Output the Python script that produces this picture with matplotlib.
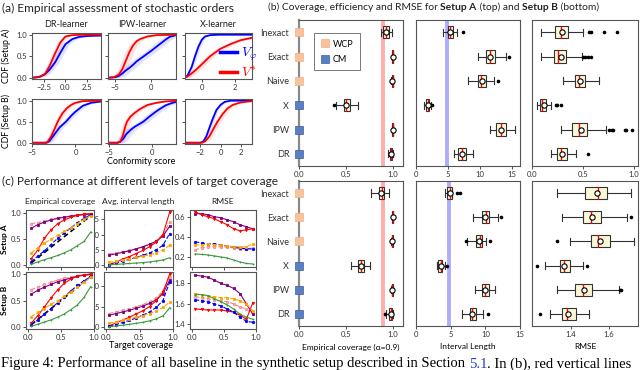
import numpy as np
import matplotlib.pyplot as plt
from matplotlib.lines import Line2D

plt.rcParams['font.family'] = ['Lato', 'DejaVu Sans']
plt.rcParams['mathtext.fontset'] = 'cm'
plt.rcParams['axes.edgecolor'] = '#555555'
plt.rcParams['axes.linewidth'] = 0.8
plt.rcParams['xtick.color'] = '#333333'
plt.rcParams['ytick.color'] = '#333333'

W, H = 640, 370

# ---------------- (a) empirical CDFs of the conformity scores ----------------
# setup A
drA_red_x = [-3.9, -3.2, -2.4, -1.84, -1.2, -0.6, 0.0, 0.8, 2.0, 4.1]
drA_red_y = [0.0, 0.01, 0.08, 0.28, 0.57, 0.82, 0.96, 0.99, 1.0, 1.0]
drA_blue_x = [-3.9, -3.0, -2.4, -1.8, -1.2, -0.6, 0.0, 0.8, 1.6, 2.5, 4.1]
drA_blue_y = [0.0, 0.02, 0.08, 0.2, 0.36, 0.58, 0.78, 0.9, 0.95, 0.97, 0.98]
ipwA_red_x = [-6.0, -5.2, -4.5, -4.0, -3.5, -3.0, -2.5, -2.0, -1.5, -0.5, 0.8, 3.5]
ipwA_red_y = [0.0, 0.01, 0.07, 0.2, 0.4, 0.6, 0.75, 0.85, 0.9, 0.96, 0.99, 1.0]
ipwA_blue_x = [-6.0, -5.0, -4.5, -4.0, -3.5, -3.0, -2.5, -2.0, -1.0, 0.0, 1.0, 2.0, 2.6, 3.5]
ipwA_blue_y = [0.0, 0.01, 0.04, 0.1, 0.17, 0.23, 0.3, 0.38, 0.5, 0.62, 0.75, 0.88, 0.95, 0.99]
xA_blue_x = [-1.0, -0.85, -0.6, -0.4, -0.2, 0.0, 0.2, 0.5, 1.0, 3.0]
xA_blue_y = [0.0, 0.05, 0.25, 0.5, 0.72, 0.88, 0.96, 0.99, 1.0, 1.0]
xA_red_x = [-1.0, -0.85, -0.6, -0.3, 0.0, 0.5, 1.1, 1.7, 2.3, 3.0]
xA_red_y = [0.0, 0.03, 0.1, 0.2, 0.31, 0.5, 0.67, 0.78, 0.87, 0.93]
# setup B
drB_red_x = [-5.0, -3.5, -3.2, -2.8, -2.4, -2.0, -1.5, -1.0, -0.5, 0.0, 0.85, 2.9]
drB_red_y = [0.0, 0.0, 0.02, 0.15, 0.33, 0.52, 0.7, 0.82, 0.9, 0.95, 0.99, 1.0]
drB_blue_x = [-5.0, -3.3, -3.0, -2.6, -2.2, -1.8, -1.1, -0.5, 0.0, 0.85, 1.8, 2.9]
drB_blue_y = [0.0, 0.0, 0.04, 0.15, 0.26, 0.37, 0.5, 0.64, 0.74, 0.88, 0.95, 0.98]
ipwB_red_x = [-5.1, -4.0, -3.7, -3.4, -3.1, -2.9, -2.5, -2.0, -1.4, -0.5, 0.55, 1.5, 2.8]
ipwB_red_y = [0.0, 0.0, 0.02, 0.15, 0.38, 0.5, 0.62, 0.71, 0.8, 0.9, 0.95, 0.98, 1.0]
ipwB_blue_x = [-5.1, -4.0, -3.7, -3.3, -3.0, -2.5, -2.0, -1.5, -1.0, -0.3, 0.4, 0.9, 1.6, 2.4, 2.8]
ipwB_blue_y = [0.0, 0.0, 0.02, 0.1, 0.2, 0.3, 0.38, 0.44, 0.5, 0.62, 0.73, 0.8, 0.89, 0.95, 0.97]
xB_blue_x = [-3.5, -2.0, -1.7, -1.4, -1.1, -0.8, -0.4, 0.0, 0.4, 1.0, 3.1]
xB_blue_y = [0.0, 0.0, 0.03, 0.15, 0.35, 0.55, 0.78, 0.9, 0.97, 1.0, 1.0]
xB_red_x = [-3.5, -1.8, -1.5, -1.1, -0.7, -0.3, 0.2, 0.7, 1.2, 2.0, 3.1]
xB_red_y = [0.0, 0.0, 0.04, 0.15, 0.33, 0.5, 0.68, 0.82, 0.9, 0.96, 0.99]
# horizontal spread of the shaded bands (red, blue)
band_A = [(0.35, 0.45), (0.6, 0.8), (0.25, 0.12)]
band_B = [(0.35, 0.4), (0.4, 0.6), (0.3, 0.2)]
xlims_A = [(-3.9, 4.1), (-6.0, 3.5), (-1.0, 3.0)]
xlims_B = [(-5.0, 2.9), (-5.1, 2.8), (-3.5, 3.1)]
xticks_A = [[-2.5, 0, 2.5], [-5, 0], [0, 2]]
xticks_B = [[-5, 0], [-5, 0], [-2, 0, 2]]
learners = ['DR-learner', 'IPW-learner', 'X-learner']

# ---------------- (b) box plot summaries: lo, q1, med, q3, hi, mean ----------------
methods = ['Inexact', 'Exact', 'Naive', 'X', 'IPW', 'DR']
families = ['WCP', 'WCP', 'WCP', 'CM', 'CM', 'CM']
cov_A = [[0.875, 0.90, 0.929, 0.957, 0.989, 0.929],
         [0.99, 0.995, 1.0, 1.0, 1.0, 0.998],
         [0.985, 0.993, 0.998, 1.0, 1.0, 0.997],
         [0.393, 0.475, 0.50, 0.543, 0.625, 0.50],
         [0.99, 0.995, 1.0, 1.0, 1.0, 0.999],
         [0.95, 0.97, 0.98, 0.99, 1.0, 0.98]]
cov_A_fl = [[], [], [], [0.375], [], []]
len_A = [[4.26, 5.0, 5.37, 5.79, 6.47, 5.4],
         [9.74, 10.95, 11.58, 12.42, 14.05, 11.6],
         [8.16, 9.74, 10.26, 10.95, 12.26, 10.3],
         [1.3, 1.6, 1.9, 2.1, 2.4, 1.85],
         [11.58, 12.6, 13.4, 14.05, 15.5, 13.4],
         [5.9, 6.63, 7.2, 7.9, 8.95, 7.2]]
len_A_fl = [[7.37], [14.6], [12.9], [2.5], [], []]
rmse_A = [[0.093, 0.225, 0.285, 0.358, 0.497, 0.298],
          [0.093, 0.215, 0.258, 0.33, 0.49, 0.28],
          [0.305, 0.424, 0.464, 0.52, 0.662, 0.47],
          [0.046, 0.076, 0.10, 0.139, 0.19, 0.113],
          [0.28, 0.39, 0.457, 0.536, 0.73, 0.48],
          [0.182, 0.248, 0.288, 0.348, 0.43, 0.298]]
rmse_A_fl = [[0.556, 0.58, 0.71, 0.83], [0.503, 0.523, 0.55, 0.58], [],
             [0.232, 0.25, 0.288], [0.76, 0.78, 0.795, 0.91, 0.927, 0.977], [0.55]]
cov_B = [[0.766, 0.851, 0.887, 0.911, 0.965, 0.88],
         [0.99, 0.995, 1.0, 1.0, 1.0, 0.998],
         [0.98, 0.99, 0.997, 1.0, 1.0, 0.996],
         [0.557, 0.635, 0.667, 0.699, 0.759, 0.667],
         [0.986, 0.992, 0.997, 1.0, 1.0, 0.996],
         [0.93, 0.957, 0.982, 0.995, 1.0, 0.978]]
cov_B_fl = [[], [], [], [], [], [0.915]]
len_B = [[4.2, 4.54, 4.87, 5.16, 5.26, 4.87],
         [8.22, 9.5, 10.03, 10.6, 11.8, 10.0],
         [7.36, 8.7, 9.17, 9.56, 10.13, 9.1],
         [2.96, 3.2, 3.54, 3.82, 4.2, 3.54],
         [8.46, 9.5, 9.99, 10.5, 11.37, 9.95],
         [6.69, 7.74, 8.12, 8.7, 9.65, 8.12]]
len_B_fl = [[5.92, 6.3], [12.28], [7.26, 10.7], [4.5], [], [10.32]]
rmse_B = [[1.332, 1.477, 1.542, 1.589, 1.712, 1.539],
          [1.358, 1.463, 1.507, 1.56, 1.691, 1.51],
          [1.396, 1.507, 1.544, 1.603, 1.73, 1.553],
          [1.267, 1.344, 1.367, 1.398, 1.463, 1.368],
          [1.328, 1.425, 1.463, 1.512, 1.653, 1.47],
          [1.291, 1.358, 1.384, 1.428, 1.498, 1.388]]
rmse_B_fl = [[], [1.712], [1.328], [1.228, 1.484], [1.656, 1.66], [1.242]]
target_alpha = 0.9
ref_len_A, ref_len_B = 4.85, 4.8

# ---------------- (c) metrics vs target coverage ----------------
target = [0.05, 0.15, 0.25, 0.35, 0.45, 0.55, 0.65, 0.75, 0.85, 0.95]
ecA_pink = [0.80, 0.82, 0.85, 0.88, 0.91, 0.93, 0.95, 0.97, 0.98, 0.99]
ecA_purple = [0.71, 0.78, 0.83, 0.87, 0.90, 0.92, 0.94, 0.96, 0.97, 0.98]
ecA_red = [0.13, 0.30, 0.52, 0.68, 0.80, 0.87, 0.92, 0.96, 0.98, 0.99]
ecA_blue = [0.07, 0.18, 0.28, 0.40, 0.52, 0.62, 0.72, 0.82, 0.90, 0.97]
ecA_orange = [0.24, 0.34, 0.43, 0.50, 0.58, 0.65, 0.72, 0.80, 0.88, 0.95]
ecA_green = [0.02, 0.07, 0.11, 0.15, 0.19, 0.24, 0.30, 0.38, 0.46, 0.64]
ecB_pink = [0.70, 0.75, 0.80, 0.84, 0.88, 0.91, 0.94, 0.96, 0.98, 1.0]
ecB_purple = [0.62, 0.69, 0.75, 0.80, 0.85, 0.88, 0.92, 0.95, 0.97, 0.98]
ecB_red = [0.08, 0.22, 0.38, 0.55, 0.70, 0.82, 0.90, 0.95, 0.98, 0.99]
ecB_blue = [0.05, 0.14, 0.25, 0.35, 0.46, 0.57, 0.68, 0.78, 0.87, 0.94]
ecB_orange = [0.20, 0.28, 0.35, 0.43, 0.50, 0.58, 0.66, 0.75, 0.84, 0.93]
ecB_green = [0.02, 0.06, 0.10, 0.14, 0.19, 0.25, 0.33, 0.42, 0.56, 0.76]
ilA_red = [0.2, 1.0, 2.0, 2.8, 3.8, 4.8, 6.0, 7.5, 10.0, 17.3]
ilA_pink = [3.6, 4.0, 4.4, 4.9, 5.4, 6.0, 6.8, 8.0, 10.0, 14.0]
ilA_purple = [3.3, 3.7, 4.2, 4.7, 5.3, 6.0, 6.8, 7.8, 9.5, 12.7]
ilA_blue = [0.2, 0.7, 1.3, 1.9, 2.5, 3.2, 4.0, 5.0, 6.5, 10.3]
ilA_orange = [0.9, 1.3, 1.7, 2.1, 2.5, 2.9, 3.4, 4.0, 5.0, 6.5]
ilA_green = [0.1, 0.25, 0.4, 0.55, 0.7, 0.85, 1.05, 1.35, 1.7, 2.4]
ilB_red = [0.3, 1.0, 1.7, 2.4, 3.2, 4.0, 5.0, 6.5, 8.5, 13.0]
ilB_pink = [3.3, 3.7, 4.1, 4.5, 5.0, 5.5, 6.2, 7.2, 8.8, 12.2]
ilB_purple = [2.9, 3.3, 3.7, 4.1, 4.6, 5.1, 5.8, 6.7, 8.2, 11.5]
ilB_blue = [0.2, 0.6, 1.1, 1.6, 2.2, 2.9, 3.7, 4.8, 6.5, 11.0]
ilB_orange = [0.9, 1.3, 1.6, 2.0, 2.4, 2.8, 3.3, 4.0, 4.8, 6.1]
ilB_green = [0.1, 0.25, 0.45, 0.65, 0.9, 1.15, 1.5, 2.0, 2.7, 4.7]
rmA_purple = [0.63, 0.63, 0.62, 0.60, 0.59, 0.57, 0.55, 0.52, 0.50, 0.48]
rmA_red = [0.65, 0.62, 0.60, 0.58, 0.55, 0.52, 0.48, 0.46, 0.47, 0.48]
rmA_blue = [0.35, 0.34, 0.33, 0.33, 0.32, 0.31, 0.30, 0.29, 0.28, 0.28]
rmA_orange = [0.32, 0.32, 0.33, 0.32, 0.32, 0.31, 0.30, 0.30, 0.30, 0.33]
rmA_pink = [0.27, 0.29, 0.30, 0.30, 0.30, 0.30, 0.29, 0.28, 0.28, 0.29]
rmA_green = [0.23, 0.225, 0.22, 0.21, 0.20, 0.19, 0.17, 0.15, 0.135, 0.13]
rmB_purple = [1.88, 1.87, 1.86, 1.83, 1.80, 1.78, 1.75, 1.70, 1.60, 1.50]
rmB_orange = [1.70, 1.69, 1.68, 1.67, 1.66, 1.66, 1.65, 1.63, 1.60, 1.53]
rmB_green = [1.69, 1.69, 1.68, 1.65, 1.62, 1.59, 1.55, 1.50, 1.47, 1.45]
rmB_pink = [1.67, 1.66, 1.65, 1.64, 1.63, 1.62, 1.60, 1.57, 1.55, 1.50]
rmB_blue = [1.64, 1.63, 1.62, 1.60, 1.58, 1.55, 1.52, 1.47, 1.43, 1.42]
rmB_red = [1.55, 1.545, 1.54, 1.54, 1.54, 1.53, 1.52, 1.49, 1.45, 1.61]

# colours / line styles of the (c) series
sty = {
    'red': dict(color='red', ls='-', marker='v'),
    'pink': dict(color='#f08a8a', ls='--', marker='o', mfc='#f7b5b5'),
    'purple': dict(color='#800080', ls='-', marker='s'),
    'orange': dict(color='#ffa500', ls='--', marker='s'),
    'blue': dict(color='blue', ls='--', marker='o'),
    'green': dict(color='#3a9a3a', ls='-', marker='+'),
}
WCP_C, CM_C = '#f9c29c', '#5a7ec2'


def px_axes(l, t, r, b, **kw):
    return fig.add_axes([l / W, 1 - b / H, (r - l) / W, (b - t) / H], **kw)


def seq_text(x, y, parts, **kw):
    # write text pieces one after another on a line (pixel coordinates)
    r = fig.canvas.get_renderer()
    for s, extra in parts:
        props = dict(kw)
        props.update(extra)
        t = fig.text(x / W, 1 - y / H, s, **props)
        bb = t.get_window_extent(r)
        x = bb.x1


def neg(v):
    return ('\u2212%g' % -v) if v < 0 else '%g' % v


def small_ticks(ax):
    ax.tick_params(labelsize=5.5, length=2, width=0.6, pad=1.5)


fig = plt.figure(figsize=(6.4, 3.7), dpi=100)

# ---------------- panel (a) ----------------
fig.text(2 / W, 1 - 8 / H, '(a) Empirical assessment of stochastic orders',
         fontsize=8.6, va='center', color='#222222')
a_cols = [(32, 100.7), (108, 176), (185, 252)]
curves_A = [(drA_red_x, drA_red_y, drA_blue_x, drA_blue_y),
            (ipwA_red_x, ipwA_red_y, ipwA_blue_x, ipwA_blue_y),
            (xA_red_x, xA_red_y, xA_blue_x, xA_blue_y)]
curves_B = [(drB_red_x, drB_red_y, drB_blue_x, drB_blue_y),
            (ipwB_red_x, ipwB_red_y, ipwB_blue_x, ipwB_blue_y),
            (xB_red_x, xB_red_y, xB_blue_x, xB_blue_y)]
for row, (top, bot, curves, bands, xl, xt) in enumerate(
        [(33, 79, curves_A, band_A, xlims_A, xticks_A),
         (99, 144, curves_B, band_B, xlims_B, xticks_B)]):
    for j, (l, r) in enumerate(a_cols):
        ax = px_axes(l, top, r, bot)
        rx, ry, bx, by = curves[j]
        wr, wb = bands[j]
        ax.fill_betweenx(ry, np.array(rx) - wr, np.array(rx) + wr, color='red', alpha=0.12, lw=0)
        ax.fill_betweenx(by, np.array(bx) - wb, np.array(bx) + wb, color='blue', alpha=0.12, lw=0)
        lb, = ax.plot(bx, by, color='blue', lw=1.3, label=r'$V_\varphi$')
        lr, = ax.plot(rx, ry, color='red', lw=1.3, label=r'$V^{*}$')
        ax.set_xlim(xl[j])
        ax.set_ylim(-0.03, 1.04)
        ax.set_xticks(xt[j])
        if j == 0 and row == 0:
            ax.set_xticklabels(['\u22122.5', '0.0', '2.5'])
        else:
            ax.set_xticklabels([neg(v) for v in xt[j]])
        ax.set_yticks([0, 0.5, 1.0])
        if j == 0:
            ax.set_yticklabels(['0.0', '0.5', '1.0'])
        else:
            ax.set_yticklabels([])
        small_ticks(ax)
        if row == 0:
            ax.set_title(learners[j], fontsize=6.5, pad=4, color='#222222')
        if row == 0 and j == 2:
            ax.legend(handles=[lb, lr], loc='center left', bbox_to_anchor=(0.42, 0.36),
                      frameon=False, fontsize=10, handlelength=1.2, handletextpad=0.3,
                      labelspacing=0.1, labelcolor='linecolor', borderpad=0)
            for line in ax.get_legend().get_lines():
                line.set_linewidth(2.5)
fig.text(6 / W, 1 - 56 / H, 'CDF (Setup A)', rotation=90, fontsize=6.3, va='center', ha='center')
fig.text(6 / W, 1 - 121 / H, 'CDF (Setup B)', rotation=90, fontsize=6.3, va='center', ha='center')
fig.text(141 / W, 1 - 161 / H, 'Conformity score', fontsize=6.5, va='center', ha='center')

# ---------------- panel (c) ----------------
fig.text(2 / W, 1 - 181 / H, '(c) Performance at different levels of target coverage',
         fontsize=8.6, va='center', color='#222222')
c_cols = [(26, 94), (104, 173), (190, 256)]
c_titles = ['Empirical coverage', 'Avg. interval length', 'RMSE']
c_data = {
    (0, 0): [ecA_pink, ecA_purple, ecA_red, ecA_blue, ecA_orange, ecA_green],
    (1, 0): [ecB_pink, ecB_purple, ecB_red, ecB_blue, ecB_orange, ecB_green],
    (0, 1): [ilA_pink, ilA_purple, ilA_red, ilA_blue, ilA_orange, ilA_green],
    (1, 1): [ilB_pink, ilB_purple, ilB_red, ilB_blue, ilB_orange, ilB_green],
    (0, 2): [rmA_pink, rmA_purple, rmA_red, rmA_blue, rmA_orange, rmA_green],
    (1, 2): [rmB_pink, rmB_purple, rmB_red, rmB_blue, rmB_orange, rmB_green],
}
c_order = ['pink', 'purple', 'red', 'blue', 'orange', 'green']
c_ylim = {(0, 0): (-0.03, 1.06), (1, 0): (-0.03, 1.03), (0, 1): (-0.6, 18), (1, 1): (-0.5, 13.5),
          (0, 2): (0.1, 0.667), (1, 2): (1.355, 1.91)}
c_yticks = {(0, 0): [0, 0.5, 1.0], (1, 0): [0, 0.5, 1.0], (0, 1): [0, 5, 10, 15], (1, 1): [0, 5, 10],
            (0, 2): [0.2, 0.4, 0.6], (1, 2): [1.4, 1.6, 1.8]}
c_rows = [(210, 267), (272, 329)]
for j in [1, 2, 0]:
    l, r = c_cols[j]
    for row, (top, bot) in enumerate(c_rows):
        ax = px_axes(l, top, r, bot)
        if j == 0:
            ax.set_zorder(3)
            ax.plot(target, target, color='black', ls='--', lw=1.2, dashes=(3, 2))
        for name, vals in zip(c_order, c_data[(row, j)]):
            ax.plot(target, vals, lw=0.8, ms=1.7, mew=0.6, **sty[name])
        ax.set_xlim(-0.03, 1.0)
        ax.set_ylim(c_ylim[(row, j)])
        yt = c_yticks[(row, j)]
        ax.set_yticks(yt)
        ax.set_yticklabels(['%.1f' % v if j != 1 else '%g' % v for v in yt])
        ax.set_xticks([0, 0.5, 1.0])
        if row == 1:
            ax.set_xticklabels(['0.0', '0.5', '1.0'])
        else:
            ax.set_xticklabels([])
        small_ticks(ax)
        if row == 0:
            ax.set_title(c_titles[j], fontsize=6.1, pad=4, color='#222222')
fig.text(5 / W, 1 - 239 / H, 'Setup A', rotation=90, fontsize=6, fontweight='bold',
         va='center', ha='center')
fig.text(5 / W, 1 - 300 / H, 'Setup B', rotation=90, fontsize=6, fontweight='bold',
         va='center', ha='center')
fig.text(141 / W, 1 - 345 / H, 'Target coverage', fontsize=6.5, va='center', ha='center')

# ---------------- panel (b) ----------------
seq_text(268, 7, [('(b) Coverage, efficiency and RMSE for ', {}),
                  ('Setup A', {'fontweight': 'bold'}),
                  (' (top) and ', {}),
                  ('Setup B', {'fontweight': 'bold'}),
                  (' (bottom)', {})],
         fontsize=7.4, va='center', color='#222222')

positions = [5, 4, 3, 2, 1, 0]


def draw_boxes(ax, rows, fliers):
    stats = []
    for vals, fl in zip(rows, fliers):
        lo, q1, med, q3, hi, mean = vals
        stats.append(dict(whislo=lo, q1=q1, med=med, q3=q3, whishi=hi, mean=mean, fliers=fl))
    ax.bxp(stats, positions=positions, orientation='horizontal', widths=0.5, capwidths=0.3,
           showmeans=True, patch_artist=True,
           boxprops=dict(facecolor='#fdf8d8', edgecolor='#333333', lw=0.8),
           whiskerprops=dict(color='#333333', lw=0.8),
           capprops=dict(color='#333333', lw=0.8),
           medianprops=dict(color='red', lw=1.0),
           meanprops=dict(marker='o', mfc='white', mec='black', ms=3.8, mew=0.8),
           flierprops=dict(marker='o', mfc='black', mec='black', ms=1.6))


b_cols_len = (416, 520)
for row, (top, bot, cov, cov_fl, ln, ln_fl, rm, rm_fl, ref_len, len_xlim, rm_xlim, rm_ticks) in enumerate([
        (20, 166, cov_A, cov_A_fl, len_A, len_A_fl, rmse_A, rmse_A_fl, ref_len_A, (0, 16.3), (0, 1.04),
         [0, 0.5, 1.0]),
        (181, 326, cov_B, cov_B_fl, len_B, len_B_fl, rmse_B, rmse_B_fl, ref_len_B, (0, 14.9), (1.2, 1.75),
         [1.4, 1.6])]):
    # coverage
    ax = px_axes(299, top, 403, bot)
    ax.axvline(target_alpha, color='#ff9999', lw=2.8, alpha=0.8, zorder=0)
    draw_boxes(ax, cov, cov_fl)
    for p, fam in zip(positions, families):
        ax.plot(0, p, marker='s', ms=5.5, color=WCP_C if fam == 'WCP' else CM_C,
                mec='#f2b088' if fam == 'WCP' else '#3d5f9e', mew=0.5, clip_on=False, zorder=5)
    ax.set_xlim(0, 1.11)
    ax.set_ylim(-0.5, 5.5)
    ax.set_yticks(positions)
    ax.set_yticklabels(methods, fontsize=6.5)
    ax.tick_params(axis='y', length=0, pad=7)
    ax.set_xticks([0, 0.5, 1.0])
    ax.set_xticklabels(['0.0', '0.5', '1.0'])
    ax.tick_params(axis='x', labelsize=5.5, length=2, width=0.6, pad=1.5)
    ax.spines['left'].set_color('#8a8a8a')
    ax.spines['left'].set_linewidth(1.6)
    if row == 0:
        hs = [Line2D([], [], ls='none', marker='s', ms=5.5, color=WCP_C, mec='#f2b088', mew=0.5),
              Line2D([], [], ls='none', marker='s', ms=5.5, color=CM_C, mec='#3d5f9e', mew=0.5)]
        leg = ax.legend(hs, ['WCP', 'CM'], loc='upper left', bbox_to_anchor=(0.1, 0.94),
                        fontsize=6.5, fancybox=False, edgecolor='#555555', handletextpad=0.4,
                        borderpad=0.7, labelspacing=0.7, handlelength=1.0)
        leg.get_frame().set_linewidth(0.7)
    else:
        ax.set_xlabel('Empirical coverage (\u03b1=0.9)', fontsize=6, labelpad=4)
    # interval length
    ax = px_axes(b_cols_len[0], top, b_cols_len[1], bot)
    ax.axvline(ref_len, color='#9999ff', lw=2.8, alpha=0.8, zorder=0)
    draw_boxes(ax, ln, ln_fl)
    ax.set_xlim(len_xlim)
    ax.set_ylim(-0.5, 5.5)
    ax.set_yticks([])
    ax.set_xticks([0, 5, 10, 15])
    ax.tick_params(axis='x', labelsize=5.5, length=2, width=0.6, pad=1.5)
    if row == 1:
        ax.set_xlabel('Interval Length', fontsize=6, labelpad=4)
    # rmse
    ax = px_axes(532, top, 638, bot)
    draw_boxes(ax, rm, rm_fl)
    ax.set_xlim(rm_xlim)
    ax.set_ylim(-0.5, 5.5)
    ax.set_yticks([])
    ax.set_xticks(rm_ticks)
    ax.set_xticklabels(['%.1f' % v for v in rm_ticks])
    ax.tick_params(axis='x', labelsize=5.5, length=2, width=0.6, pad=1.5)
    if row == 1:
        ax.set_xlabel('RMSE', fontsize=6, labelpad=4)

# caption (cut by the bottom edge in the source)
seq_text(1, 367.5, [('Figure 4: Performance of all baseline in the synthetic setup described in Section ', {}),
                    ('5.1', {'color': '#1f3fbf'}),
                    ('. In (b), red vertical lines', {})],
         fontsize=10.55, family='Liberation Serif', va='baseline', color='black')

fig.savefig('out.png', dpi=100)
